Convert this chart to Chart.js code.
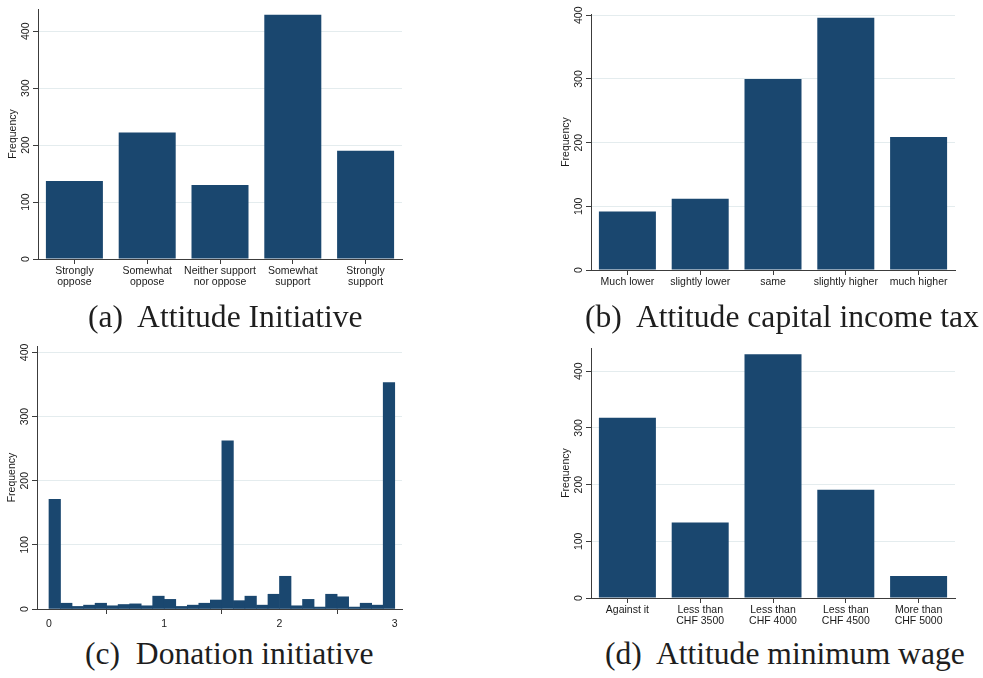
<!DOCTYPE html>
<html>
<head>
<meta charset="utf-8">
<script src="https://cdn.jsdelivr.net/npm/chart.js@4.4.1/dist/chart.umd.min.js"></script>
<style>
  html, body { margin: 0; padding: 0; background: #fff; }
  body { position: relative; width: 983px; height: 678px; overflow: hidden; }
  canvas { position: absolute; }
  .cap {
    position: absolute;
    font-family: "Liberation Serif", "Times New Roman", serif;
    font-size: 31.6px;
    line-height: 32px;
    color: #1e1e1e;
    white-space: pre;
  }
</style>
</head>
<body>
<canvas id="chartA" width="430" height="300" style="left:0px;top:0px"></canvas>
<canvas id="chartB" width="433" height="300" style="left:550px;top:0px"></canvas>
<canvas id="chartC" width="430" height="300" style="left:0px;top:330px"></canvas>
<canvas id="chartD" width="433" height="300" style="left:550px;top:330px"></canvas>

<div class="cap" style="left:88px;top:301px">(a)  Attitude Initiative</div>
<div class="cap" style="left:585px;top:301px">(b)  Attitude capital income tax</div>
<div class="cap" style="left:85px;top:638px">(c)  Donation initiative</div>
<div class="cap" style="left:605px;top:638px">(d)  Attitude minimum wage</div>

<script>
// (a) Attitude towards the initiative
const initiativeLabels = [
  ['Strongly', 'oppose'],
  ['Somewhat', 'oppose'],
  ['Neither support', 'nor oppose'],
  ['Somewhat', 'support'],
  ['Strongly', 'support']
];
const initiativeCounts = [137, 222, 130, 429, 190];

// (b) Attitude towards the capital income tax
const capitalTaxLabels = ['Much lower', 'slightly lower', 'same', 'slightly higher', 'much higher'];
const capitalTaxCounts = [92, 112, 300, 396, 209];

// (c) Donation to the initiative: histogram, bins of 0.1 starting at 0
const donationBinStart = 0;
const donationBinWidth = 0.1;
const donationCounts = [
  171, 9, 4, 6, 9, 5, 7, 8, 5, 20,
  15, 4, 6, 9, 14, 262, 13, 20, 6, 23,
  51, 5, 15, 3, 23, 19, 3, 9, 6, 353
];
const donationTicks = [0, 1, 2, 3];

// (d) Attitude towards the minimum wage
const minWageLabels = [
  ['Against it'],
  ['Less than', 'CHF 3500'],
  ['Less than', 'CHF 4000'],
  ['Less than', 'CHF 4500'],
  ['More than', 'CHF 5000']
];
const minWageCounts = [318, 133, 430, 191, 39];

// shared frequency axis
const frequencyTicks = [0, 100, 200, 300, 400];
const frequencyTitle = 'Frequency';

const BAR_COLOR = '#1a476f';
const GRID_COLOR = '#e4ecee';
const AXIS_COLOR = '#3c3c3c';
const TEXT_COLOR = '#1a1a1a';
const SANS = '"Liberation Sans", Arial, Helvetica, sans-serif';
const FONT_SIZE = 10.5;

// vertical tick labels and axis title, rotated as in Stata output
const frequencyAxisText = {
  id: 'frequencyAxisText',
  afterDraw(chart) {
    const { ctx, chartArea } = chart;
    const y = chart.scales.y;
    ctx.save();
    ctx.fillStyle = TEXT_COLOR;
    ctx.font = FONT_SIZE + 'px ' + SANS;
    ctx.textAlign = 'center';
    ctx.textBaseline = 'middle';
    y.ticks.forEach(t => {
      const py = y.getPixelForValue(t.value);
      ctx.save();
      ctx.translate(chartArea.left - 12.3, py);
      ctx.rotate(-Math.PI / 2);
      ctx.fillText(String(t.value), 0, 0);
      ctx.restore();
    });
    ctx.translate(chartArea.left - 24.5, (chartArea.top + chartArea.bottom) / 2);
    ctx.rotate(-Math.PI / 2);
    ctx.fillText(frequencyTitle, 0, 0);
    ctx.restore();
  }
};

function yAxis(max, width) {
  return {
    min: 0,
    max: max,
    border: { color: AXIS_COLOR, width: 1 },
    grid: {
      color: ctx => (ctx.tick && ctx.tick.value === 0) ? 'rgba(0,0,0,0)' : GRID_COLOR,
      tickColor: AXIS_COLOR,
      tickLength: 5,
      lineWidth: 1
    },
    ticks: { display: false },
    afterBuildTicks: s => { s.ticks = frequencyTicks.map(v => ({ value: v })); },
    afterFit: s => { s.width = width; }
  };
}

function xCategoryAxis(height) {
  return {
    type: 'category',
    offset: true,
    border: { color: AXIS_COLOR, width: 1 },
    grid: { drawOnChartArea: false, offset: false, tickColor: AXIS_COLOR, tickLength: 5 },
    ticks: {
      color: TEXT_COLOR,
      font: { family: SANS, size: FONT_SIZE, lineHeight: 1.1 },
      maxRotation: 0, minRotation: 0, autoSkip: false, padding: 1
    },
    afterFit: s => { s.height = height; }
  };
}

function baseOptions(padTop, padRight) {
  return {
    responsive: false,
    animation: false,
    devicePixelRatio: 1,
    layout: { padding: { top: padTop, right: padRight, left: 0, bottom: 0 } },
    plugins: { legend: { display: false }, tooltip: { enabled: false } }
  };
}

function categoryChart(id, labels, counts, yMax, yWidth, xHeight, padTop, padRight) {
  const opts = baseOptions(padTop, padRight);
  opts.scales = { x: xCategoryAxis(xHeight), y: yAxis(yMax, yWidth) };
  return new Chart(document.getElementById(id), {
    type: 'bar',
    data: {
      labels: labels,
      datasets: [{
        data: counts,
        backgroundColor: BAR_COLOR,
        borderWidth: 0,
        barPercentage: 1,
        categoryPercentage: 0.783
      }]
    },
    options: opts,
    plugins: [frequencyAxisText]
  });
}

categoryChart('chartA', initiativeLabels, initiativeCounts, 439, 38, 41, 9, 28);
categoryChart('chartB', capitalTaxLabels, capitalTaxCounts, 402, 41, 30, 14, 28);
categoryChart('chartD', minWageLabels, minWageCounts, 441, 41, 32, 18, 28);

// histogram of donations on a linear x axis
const donationPoints = donationCounts.map((c, i) => ({
  x: donationBinStart + (i + 0.5) * donationBinWidth,
  y: c
}));
const optsC = baseOptions(16, 28);
optsC.scales = {
  x: {
    type: 'linear',
    min: -0.104,
    max: 3.063,
    offset: false,
    border: { color: AXIS_COLOR, width: 1 },
    grid: { drawOnChartArea: false, tickColor: AXIS_COLOR, tickLength: 5 },
    ticks: {
      color: TEXT_COLOR,
      font: { family: SANS, size: FONT_SIZE },
      maxRotation: 0, minRotation: 0, padding: 4,
      callback: v => String(v)
    },
    afterBuildTicks: s => { s.ticks = donationTicks.map(v => ({ value: v })); },
    afterFit: s => { s.height = 21; }
  },
  y: yAxis(410, 37)
};
new Chart(document.getElementById('chartC'), {
  type: 'bar',
  data: {
    datasets: [{
      data: donationPoints,
      backgroundColor: BAR_COLOR,
      borderWidth: 0,
      barPercentage: 1,
      categoryPercentage: 1
    }]
  },
  options: optsC,
  plugins: [frequencyAxisText]
});
</script>
</body>
</html>
